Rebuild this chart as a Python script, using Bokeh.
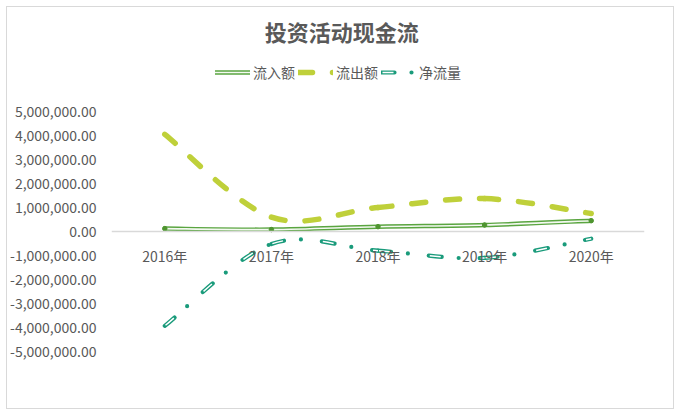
from bokeh.plotting import figure
from bokeh.models import (FixedTicker, NumeralTickFormatter, Legend, LegendItem,
                          ColumnDataSource, Range1d)
from bokeh.core.properties import value
from bokeh.embed import file_html
from bokeh.resources import INLINE

# ---- data ----
title_text = "投资活动现金流"
categories = ["2016年", "2017年", "2018年", "2019年", "2020年"]
inflow = [120000, 80000, 200000, 270000, 450000]          # 流入额
outflow = [4050000, 600000, 1000000, 1370000, 750000]     # 流出额
net = [-3930000, -520000, -800000, -1100000, -300000]     # 净流量
y_ticks = [-5000000, -4000000, -3000000, -2000000, -1000000, 0,
           1000000, 2000000, 3000000, 4000000, 5000000]

FONT = "Noto Sans CJK SC"
TXT = "#595959"


def smooth_source(vals):
    """Bezier segments (Excel-style smoothed line) through the data points."""
    n = len(vals)
    xs = list(range(n))
    d = dict(x0=[], y0=[], x1=[], y1=[], cx0=[], cy0=[], cx1=[], cy1=[])
    for i in range(n - 1):
        p0 = (xs[max(i - 1, 0)], vals[max(i - 1, 0)])
        p1 = (xs[i], vals[i])
        p2 = (xs[i + 1], vals[i + 1])
        p3 = (xs[min(i + 2, n - 1)], vals[min(i + 2, n - 1)])
        d["x0"].append(p1[0]); d["y0"].append(p1[1])
        d["x1"].append(p2[0]); d["y1"].append(p2[1])
        d["cx0"].append(p1[0] + (p2[0] - p0[0]) / 6)
        d["cy0"].append(p1[1] + (p2[1] - p0[1]) / 6)
        d["cx1"].append(p2[0] - (p3[0] - p1[0]) / 6)
        d["cy1"].append(p2[1] - (p3[1] - p1[1]) / 6)
    return ColumnDataSource(d)


# frame extends above the 5,000,000 tick so the title and legend sit inside it
p = figure(width=668, height=403, x_range=Range1d(-0.5, len(categories) - 0.5),
           y_range=Range1d(y_ticks[0], 9000000),
           output_backend="svg", toolbar_location=None,
           min_border_left=101, min_border_right=31, min_border_top=8,
           min_border_bottom=59)
p.margin = (6, 0, 0, 6)
p.styles = {"border": "1.5px solid #d9d9d9"}
p.outline_line_color = None
p.xgrid.visible = False
p.ygrid.visible = False

# title
p.text(x=[1.66], y=[8370000], text=[title_text], text_font=value(FONT),
       text_font_size="22px", text_font_style="bold", text_color=TXT,
       text_align="center", text_baseline="middle")

# y axis
p.yaxis.ticker = FixedTicker(ticks=y_ticks)
p.yaxis.formatter = NumeralTickFormatter(format="0,0.00")
p.yaxis.axis_line_color = None
p.yaxis.major_tick_line_color = None
p.yaxis.minor_tick_line_color = None
p.yaxis.major_label_standoff = 9
p.yaxis.major_label_text_font = FONT
p.yaxis.major_label_text_font_size = "14px"
p.yaxis.major_label_text_color = TXT

# x axis (category axis crossing at 0)
p.xaxis.ticker = FixedTicker(ticks=list(range(len(categories))))
p.xaxis.major_label_overrides = {i: c for i, c in enumerate(categories)}
p.xaxis.fixed_location = 0
p.xaxis.axis_line_color = "#d9d9d9"
p.xaxis.axis_line_width = 1.5
p.xaxis.major_tick_line_color = None
p.xaxis.minor_tick_line_color = None
p.xaxis.major_label_standoff = 8
p.xaxis.major_label_text_font = FONT
p.xaxis.major_label_text_font_size = "14px"
p.xaxis.major_label_text_color = TXT

# 流入额: green double line
s_in = smooth_source(inflow)
in_o = p.bezier(x0="x0", y0="y0", x1="x1", y1="y1", cx0="cx0", cy0="cy0",
                cx1="cx1", cy1="cy1", source=s_in, line_color="#5aa540",
                line_width=4.5, line_cap="round")
in_i = p.bezier(x0="x0", y0="y0", x1="x1", y1="y1", cx0="cx0", cy0="cy0",
                cx1="cx1", cy1="cy1", source=s_in, line_color="#f4f9f1",
                line_width=1.6, line_cap="round")
in_m = p.scatter(x=list(range(len(categories))), y=inflow, size=4.5,
                 color="#4f9530")

# 流出额: yellow-green thick dashed
s_out = smooth_source(outflow)
out_r = p.bezier(x0="x0", y0="y0", x1="x1", y1="y1", cx0="cx0", cy0="cy0",
                 cx1="cx1", cy1="cy1", source=s_out, line_color="#bfd03a",
                 line_width=5.5, line_dash="14 20", line_cap="round")

# 净流量: teal double-line dash-dot
s_net = smooth_source(net)
net_o = p.bezier(x0="x0", y0="y0", x1="x1", y1="y1", cx0="cx0", cy0="cy0",
                 cx1="cx1", cy1="cy1", source=s_net, line_color="#1a9b7b",
                 line_width=4.2, line_dash="13 17 0 21", line_cap="round")
net_i = p.bezier(x0="x0", y0="y0", x1="x1", y1="y1", cx0="cx0", cy0="cy0",
                 cx1="cx1", cy1="cy1", source=s_net, line_color="#ffffff",
                 line_width=1.5, line_dash="0 1 11 39", line_cap="butt")

legend = Legend(items=[
    LegendItem(label="流入额", renderers=[in_o, in_i]),
    LegendItem(label="流出额", renderers=[out_r]),
    LegendItem(label="净流量", renderers=[net_o, net_i]),
], orientation="horizontal", location=(104, 269))
legend.label_text_font = FONT
legend.label_text_font_size = "14px"
legend.label_text_color = TXT
legend.border_line_color = None
legend.background_fill_alpha = 0
legend.glyph_width = 35
legend.label_standoff = 3
legend.spacing = 3
legend.padding = 0
legend.margin = 0
p.add_layout(legend)

open("out.html", "w").write(file_html(p, INLINE))
